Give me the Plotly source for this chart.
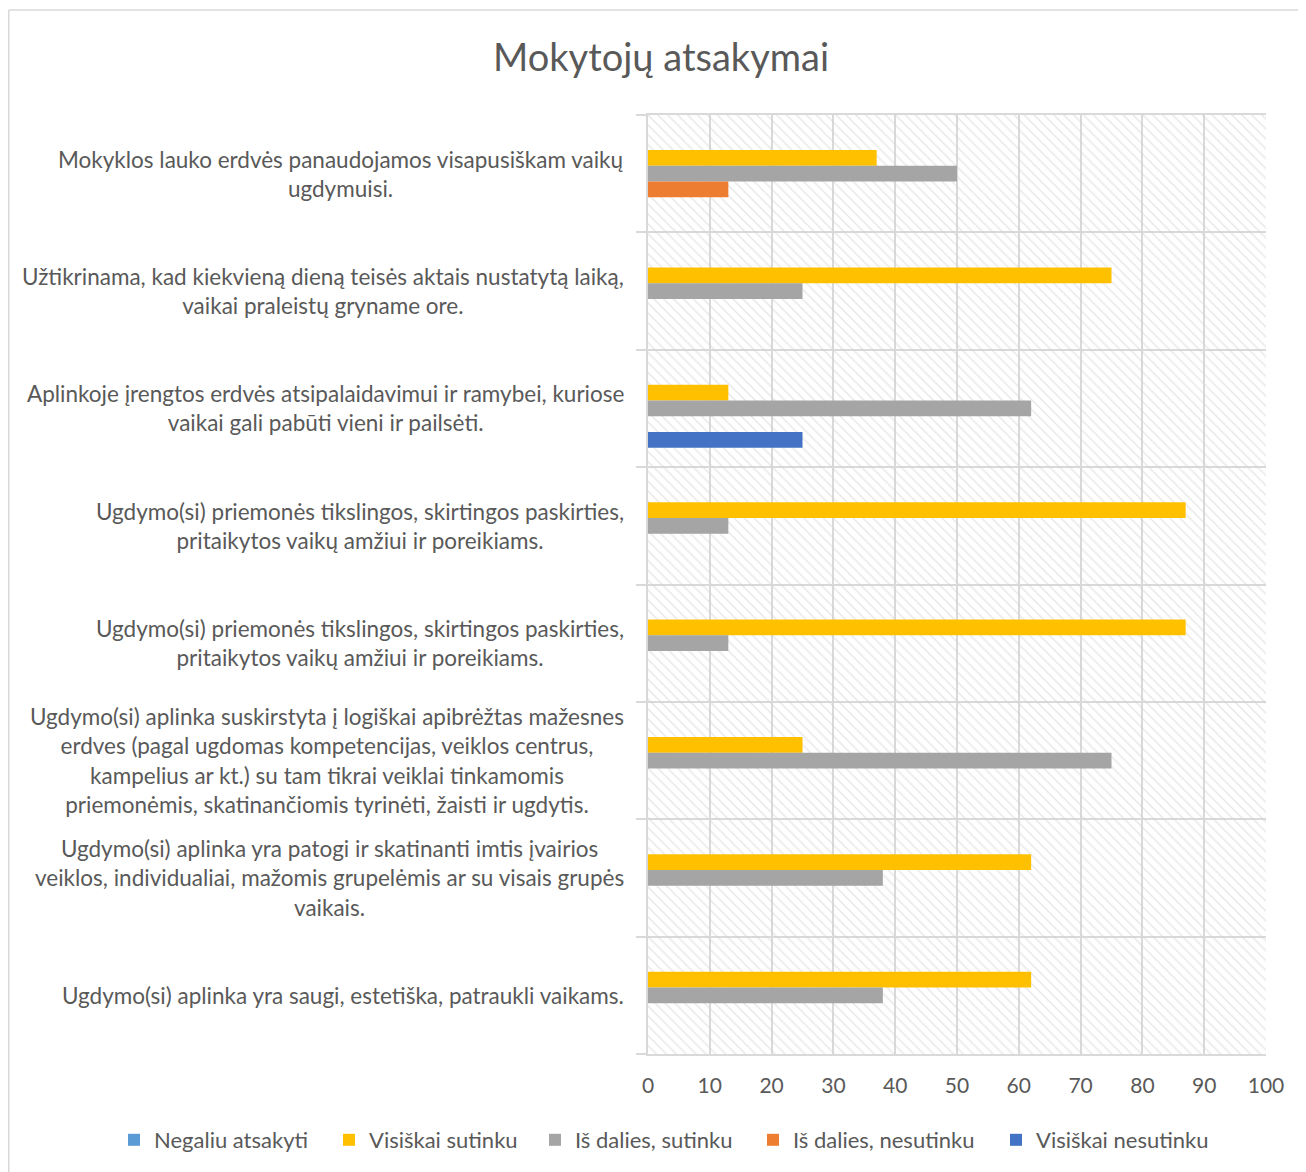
import plotly.graph_objects as go

title = "Mokytojų atsakymai"

categories = [
    "Mokyklos lauko erdvės panaudojamos visapusiškam vaikų<br>ugdymuisi.",
    "Užtikrinama, kad kiekvieną dieną teisės aktais nustatytą laiką,<br>vaikai praleistų gryname ore.",
    "Aplinkoje įrengtos erdvės atsipalaidavimui ir ramybei, kuriose<br>vaikai gali pabūti vieni ir pailsėti.",
    "Ugdymo(si) priemonės tikslingos, skirtingos paskirties,<br>pritaikytos vaikų amžiui ir poreikiams.",
    "Ugdymo(si) priemonės tikslingos, skirtingos paskirties,<br>pritaikytos vaikų amžiui ir poreikiams.",
    "Ugdymo(si) aplinka suskirstyta į logiškai apibrėžtas mažesnes<br>erdves (pagal ugdomas kompetencijas, veiklos centrus,<br>kampelius ar kt.) su tam tikrai veiklai tinkamomis<br>priemonėmis, skatinančiomis tyrinėti, žaisti ir ugdytis.",
    "Ugdymo(si) aplinka yra patogi ir skatinanti imtis įvairios<br>veiklos, individualiai, mažomis grupelėmis ar su visais grupės<br>vaikais.",
    "Ugdymo(si) aplinka yra saugi, estetiška, patraukli vaikams.",
]

series_names = ["Negaliu atsakyti", "Visiškai sutinku", "Iš dalies, sutinku",
                "Iš dalies, nesutinku", "Visiškai nesutinku"]
negaliu_atsakyti = [0, 0, 0, 0, 0, 0, 0, 0]
visiskai_sutinku = [37, 75, 13, 87, 87, 25, 62, 62]
is_dalies_sutinku = [50, 25, 62, 13, 13, 75, 38, 38]
is_dalies_nesutinku = [13, 0, 0, 0, 0, 0, 0, 0]
visiskai_nesutinku = [0, 0, 25, 0, 0, 0, 0, 0]

x_ticks = [0, 10, 20, 30, 40, 50, 60, 70, 80, 90, 100]

colors = ["#5B9BD5", "#FFC000", "#A5A5A5", "#ED7D31", "#4472C4"]
values = [negaliu_atsakyti, visiskai_sutinku, is_dalies_sutinku,
          is_dalies_nesutinku, visiskai_nesutinku]

# figure is placed by the page with an 8px body margin
W, H = 1298, 1164
L, R, T, B = 640, 40, 107, 118
pw, ph = W - L - R, H - T - B

FONT = "Lato"
TXT = "#595959"
GRID = "#d9d9d9"

n = len(categories)
pos = list(range(n))

# left edge (figure px) of each legend entry
legend_left = [106, 321, 527, 745, 988]
legend_names = ["legend", "legend2", "legend3", "legend4", "legend5"]

fig = go.Figure()

# hatched plot background
fig.add_trace(go.Bar(
    x=[x_ticks[-1]], y=[(n - 1) / 2], width=[n], orientation="h",
    xaxis="x", yaxis="y", showlegend=False, hoverinfo="skip",
    marker=dict(color="rgba(0,0,0,0)", line=dict(width=0),
                pattern=dict(shape="\\", fgcolor="#d2d2d2", bgcolor="rgba(0,0,0,0)",
                             size=7, solidity=0.22)),
))

for name, vals, c, lg in zip(series_names, values, colors, legend_names):
    fig.add_trace(go.Bar(
        name=name, x=vals, y=pos, orientation="h", xaxis="x", yaxis="y2",
        marker=dict(color=c, line=dict(width=0)), legend=lg,
    ))

for i, cat in enumerate(categories):
    fig.add_annotation(
        text=cat, x=-(L - 618) / pw, xref="paper", y=i, yref="y2",
        xanchor="right", yanchor="middle", align="center", showarrow=False,
        font=dict(family=FONT, size=22.5, color=TXT),
    )

bounds = [i - 0.5 for i in range(n + 1)]

legend_y = -(1132 - (H - B)) / ph
legend_layouts = {}
for lg, lx in zip(legend_names, legend_left):
    legend_layouts[lg] = dict(
        orientation="h", x=(lx - L) / pw, xref="paper", xanchor="left",
        y=legend_y, yref="paper", yanchor="middle",
        font=dict(family=FONT, size=22, color=TXT),
        itemwidth=30, bgcolor="rgba(0,0,0,0)",
    )

fig.update_layout(
    width=W, height=H,
    margin=dict(l=L, r=R, t=T, b=B, autoexpand=False),
    paper_bgcolor="white", plot_bgcolor="white",
    barmode="group", bargap=0.33, bargroupgap=0,
    title=dict(text=title, x=653 / W, xref="container", xanchor="center",
               y=1 - 50 / H, yref="container", yanchor="middle",
               font=dict(family=FONT, size=38, color=TXT)),
    xaxis=dict(range=[0, 100], tickvals=x_ticks, showgrid=True, gridcolor=GRID,
               gridwidth=1.5, showline=True, linecolor=GRID, linewidth=1.5, mirror=True,
               ticks="", zeroline=False, ticklabelstandoff=12,
               tickfont=dict(family=FONT, size=21, color=TXT)),
    yaxis=dict(range=[n - 0.5, -0.5], tickvals=bounds, showticklabels=False,
               showgrid=True, gridcolor=GRID, gridwidth=1.5, ticks="outside",
               ticklen=10, tickcolor=GRID, tickwidth=1.5, showline=True,
               linecolor=GRID, linewidth=1.5, zeroline=False),
    yaxis2=dict(range=[n - 0.5, -0.5], overlaying="y", side="left",
                showticklabels=False, showgrid=False, zeroline=False, ticks=""),
    showlegend=True,
    **legend_layouts,
)

# outer chart border
fig.add_shape(type="line", xref="paper", yref="paper",
              x0=(0.75 - L) / pw, x1=(W + 5 - L) / pw,
              y0=(H - B - 2) / ph, y1=(H - B - 2) / ph,
              line=dict(color=GRID, width=1.5))
fig.add_shape(type="line", xref="paper", yref="paper",
              x0=(0.75 - L) / pw, x1=(0.75 - L) / pw,
              y0=(H - B - 2) / ph, y1=-(B + 5) / ph,
              line=dict(color=GRID, width=1.5))

fig.write_html("out.html")
